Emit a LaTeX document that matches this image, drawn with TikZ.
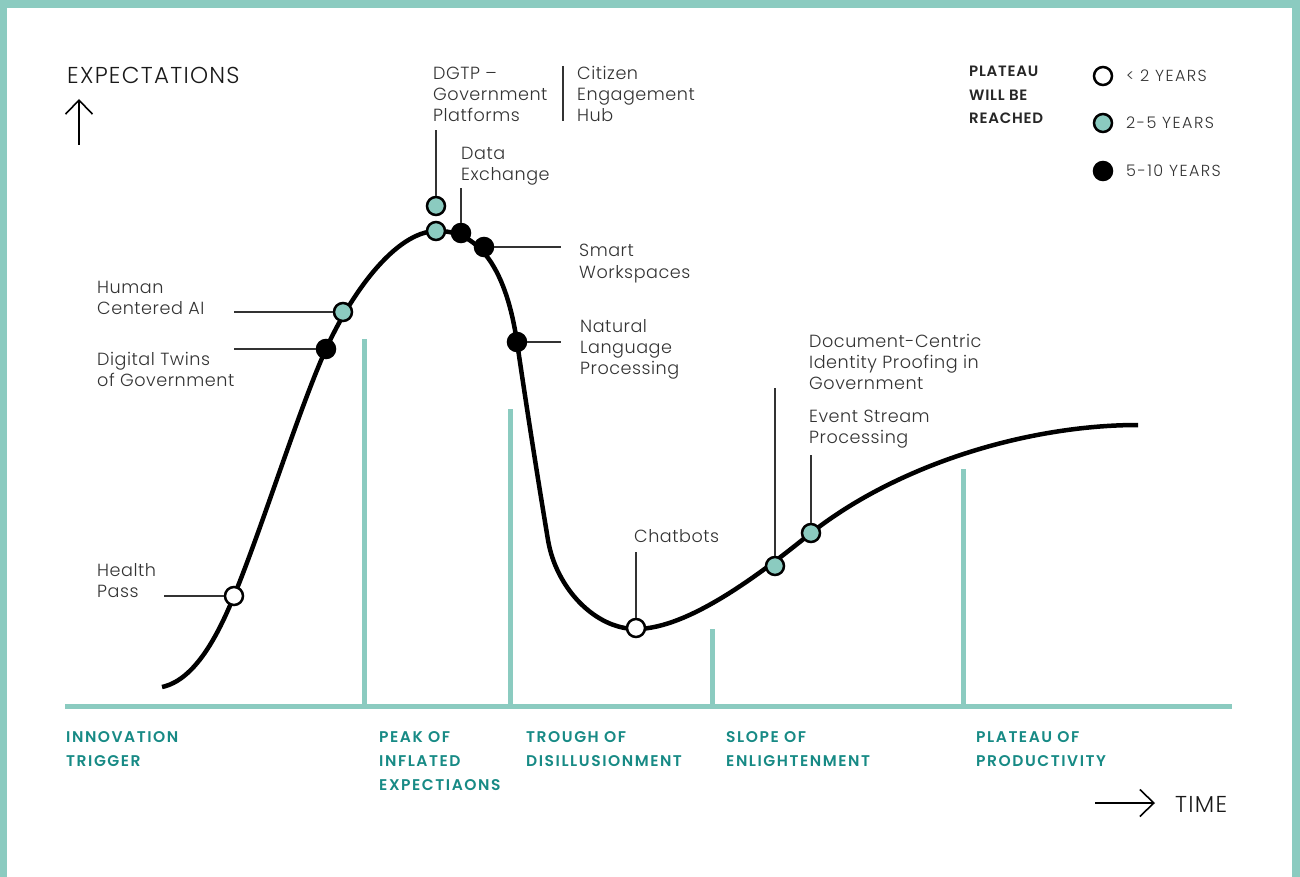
\documentclass[tikz,border=0pt]{standalone}
\usepackage{fontspec}
\usetikzlibrary{arrows.meta}
\IfFontExistsTF{Poppins Light}{\def\LightName{Poppins Light}}{\def\LightName{Poppins}}
\newfontfamily\lblf{\LightName}[LetterSpace=3]
\newfontfamily\titlef{\LightName}[LetterSpace=5.5]
\newfontfamily\legf{\LightName}[LetterSpace=9]
\IfFontExistsTF{Poppins SemiBold}{\newfontfamily\phasef{Poppins SemiBold}[LetterSpace=10]\newfontfamily\legbf{Poppins SemiBold}[LetterSpace=5]}{\newfontfamily\phasef{Poppins}[LetterSpace=10,FakeBold=2]\newfontfamily\legbf{Poppins}[LetterSpace=5,FakeBold=2]}
\newcommand\mlines[1]{\vtop{\halign{##\hfil\cr#1\crcr}}}
\definecolor{tealL}{HTML}{8BCBC0}
\definecolor{tealD}{HTML}{178A85}
\definecolor{txt}{HTML}{333333}
\begin{document}
\begin{tikzpicture}[x=1pt,y=-1pt,
  lbl/.style={anchor=base west,inner sep=0pt,text=txt,font=\lblf\fontsize{17.6}{21}\selectfont},
  ttl/.style={anchor=base west,inner sep=0pt,text=black!90,font=\titlef\fontsize{23}{26}\selectfont},
  phase/.style={anchor=base west,inner sep=0pt,text=tealD,font=\phasef\fontsize{15.5}{24}\selectfont},
  legt/.style={anchor=base west,inner sep=0pt,text=txt,font=\legf\fontsize{16}{20}\selectfont},
  legb/.style={anchor=base west,inner sep=0pt,text=black!85,font=\legbf\fontsize{15}{23.5}\selectfont},
  dot/.style={circle,draw=black,line width=2.5pt,minimum size=18pt,inner sep=0pt},
  wdot/.style={dot,fill=white},
  tdot/.style={dot,fill=tealL},
  bdot/.style={dot,fill=black},
  lead/.style={draw=txt,line width=1.5pt},
  tealbar/.style={draw=tealL,line width=5pt},
  curve/.style={draw=black,line width=4.5pt},
  axarrow/.style={draw=black,line width=1.6pt,-{Straight Barb[length=14pt,width=27pt]}}
]
\useasboundingbox (0,0) rectangle (1300,877);
% frame
\fill[tealL] (0,0) rectangle (7,877);
\fill[tealL] (0,0) rectangle (1300,8);
\fill[tealL] (1292,0) rectangle (1300,877);

% axis titles
\node[ttl] (exp) at (67,84) {EXPECTATIONS};
\coordinate (ya0) at (79,145);
\coordinate (ya1) at (79,99);
\draw[axarrow] (ya0) -- (ya1);
\node[ttl] (time) at (1175,812) {TIME};
\coordinate (xa0) at (1095,803);
\coordinate (xa1) at (1155,803);
\draw[axarrow] (xa0) -- (xa1);

% base axis and phase bars
\coordinate (ax0) at (65,706.5);
\coordinate (ax1) at (1232,706.5);
\draw[tealbar] (ax0) -- (ax1);
\coordinate (b1t) at (364,339);  \coordinate (b1b) at (364,706.5);
\coordinate (b2t) at (510,409);  \coordinate (b2b) at (510,706.5);
\coordinate (b3t) at (712,629);  \coordinate (b3b) at (712,706.5);
\coordinate (b4t) at (963,469);  \coordinate (b4b) at (963,706.5);
\draw[tealbar] (b1t) -- (b1b);
\draw[tealbar] (b2t) -- (b2b);
\draw[tealbar] (b3t) -- (b3b);
\draw[tealbar] (b4t) -- (b4b);

% phase labels
\node[phase] (ph1) at (66,742) {\mlines{INNOVATION\cr TRIGGER}};
\node[phase] (ph2) at (379,742) {\mlines{PEAK OF\cr INFLATED\cr EXPECTIAONS}};
\node[phase] (ph3) at (526,742) {\mlines{TROUGH OF\cr DISILLUSIONMENT}};
\node[phase] (ph4) at (726,742) {\mlines{SLOPE OF\cr ENLIGHTENMENT}};
\node[phase] (ph5) at (976,742) {\mlines{PLATEAU OF\cr PRODUCTIVITY}};

% hype curve
\coordinate (c0) at (162,687);
\coordinate (c1) at (234,596);
\coordinate (c2) at (326,349);
\coordinate (c3) at (436,231);
\coordinate (c4) at (517,342);
\coordinate (c5) at (548,540);
\coordinate (c6) at (636,629);
\coordinate (c7) at (811,533);
\coordinate (c8) at (1138,425);
\draw[curve] (c0) .. controls (195,680) and (218,635) .. (c1)
  .. controls (263,525) and (299,409) .. (c2)
  .. controls (351,294) and (395,232) .. (c3)
  .. controls (475,230) and (505,262) .. (c4)
  .. controls (527,410) and (538,480) .. (c5)
  .. controls (556,588) and (595,629) .. (c6)
  .. controls (690,629) and (765,570) .. (c7)
  .. controls (900,463) and (1030,425) .. (c8);

% leader end points
\coordinate (hpE) at (164,596);
\coordinate (dtE) at (234,349);
\coordinate (hcaE) at (234,312);
\coordinate (dgE) at (436,130);
\coordinate (deE) at (461,188);
\coordinate (swE) at (561,247);
\coordinate (nlpE) at (561,342);
\coordinate (cbE) at (636,552);
\coordinate (dcE) at (775,388);
\coordinate (esE) at (811,455);
\coordinate (sepT) at (563,66);
\coordinate (sepB) at (563,121);

% markers
\node[wdot] (hp) at (234,596) {};
\node[bdot] (dt) at (326,349) {};
\node[tdot] (hca) at (343,312) {};
\node[tdot] (dg) at (436,206) {};
\node[tdot] (ceh) at (436,231) {};
\node[bdot] (de) at (461,233) {};
\node[bdot] (sw) at (484,247) {};
\node[bdot] (nlp) at (517,342) {};
\node[wdot] (cb) at (636,628) {};
\node[tdot] (dc) at (775,566) {};
\node[tdot] (es) at (811,533) {};

% leaders
\draw[lead] (hp) -- (hpE);
\draw[lead] (dt) -- (dtE);
\draw[lead] (hca) -- (hcaE);
\draw[lead] (dg) -- (dgE);
\draw[lead] (de) -- (deE);
\draw[lead] (sw) -- (swE);
\draw[lead] (nlp) -- (nlpE);
\draw[lead] (cb) -- (cbE);
\draw[lead] (dc) -- (dcE);
\draw[lead] (es) -- (esE);
\draw[lead] (sepT) -- (sepB);

% labels
\node[lbl] (tDG) at (433,80) {\mlines{DGTP –\cr Government\cr Platforms}};
\node[lbl] (tCE) at (577,80) {\mlines{Citizen\cr Engagement\cr Hub}};
\node[lbl] (tDE) at (461,160) {\mlines{Data\cr Exchange}};
\node[lbl] (tSW) at (579,257) {\mlines{Smart\cr Workspaces}};
\node[lbl] (tHC) at (97,293) {\mlines{Human\cr Centered AI}};
\node[lbl] (tDT) at (97,365) {\mlines{Digital Twins\cr of Government}};
\node[lbl] (tNL) at (580,332) {\mlines{Natural\cr Language\cr Processing}};
\node[lbl] (tDC) at (809,347) {\mlines{Document-Centric\cr Identity Proofing in\cr Government}};
\node[lbl] (tES) at (809,422) {\mlines{Event Stream\cr Processing}};
\node[lbl] (tCB) at (634,542) {Chatbots};
\node[lbl] (tHP) at (97,576) {\mlines{Health\cr Pass}};

% legend
\node[legb] (legT) at (969,77) {\mlines{PLATEAU\cr WILL BE\cr REACHED}};
\node[wdot] (l1) at (1103,76) {};
\node[tdot] (l2) at (1103,123) {};
\node[bdot] (l3) at (1103,171) {};
\node[legt] (l1t) at (1126,82) {< 2 YEARS};
\node[legt] (l2t) at (1126,129) {2-5 YEARS};
\node[legt] (l3t) at (1126,177) {5-10 YEARS};
\end{tikzpicture}
\end{document}
